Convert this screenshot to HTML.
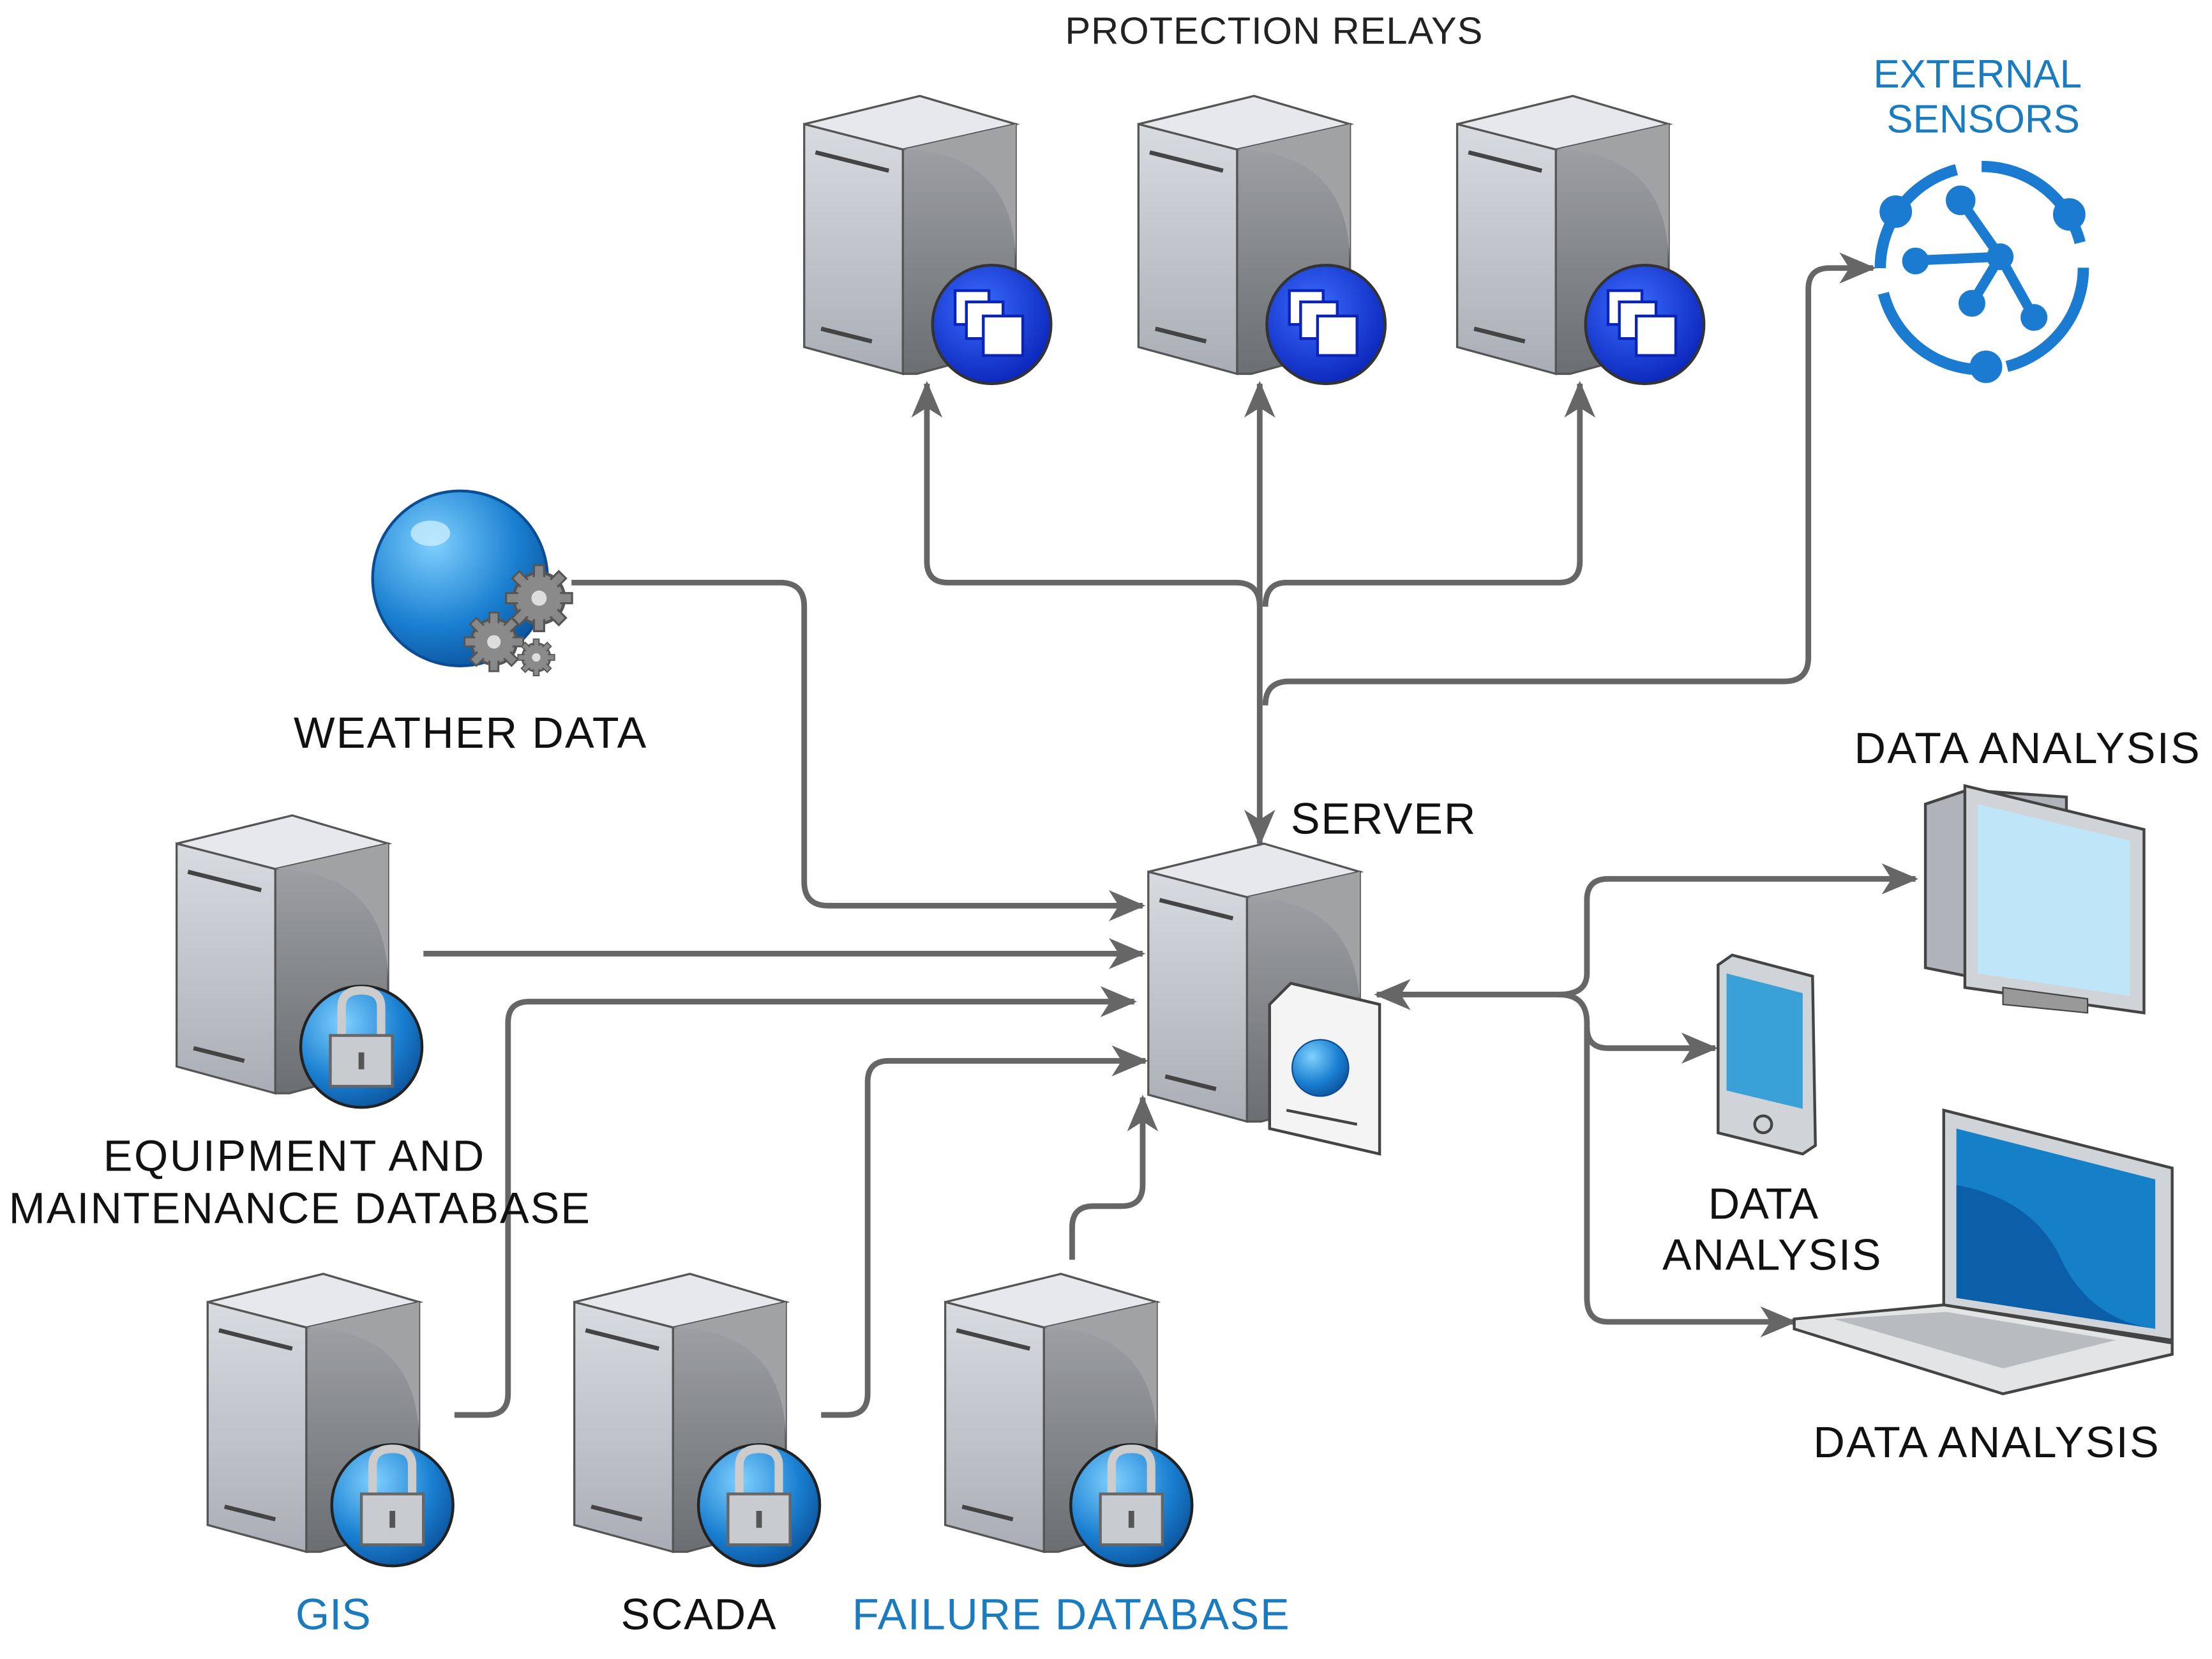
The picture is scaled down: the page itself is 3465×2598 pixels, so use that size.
<!DOCTYPE html>
<html><head><meta charset="utf-8"><style>
html,body{margin:0;padding:0;background:#fff;width:3465px;height:2598px;overflow:hidden}
svg{display:block}
text{font-family:"Liberation Sans",Arial,sans-serif}
</style></head><body>
<svg width="3465" height="2598" viewBox="0 0 1568 1176" xmlns="http://www.w3.org/2000/svg">
<defs>
<marker id="ah" viewBox="0 0 26 22" refX="24" refY="11" markerWidth="26" markerHeight="22" markerUnits="userSpaceOnUse" orient="auto">
<path d="M0,0 L26,11 L0,22 L7,11 Z" fill="#666"/>
</marker>
<linearGradient id="gf" x1="0" x2="0" y1="0" y2="1"><stop offset="0" stop-color="#d8dbe0"/><stop offset="1" stop-color="#a9aeb6"/></linearGradient>
<linearGradient id="gs" x1="0" x2="0" y1="0" y2="1"><stop offset="0" stop-color="#a2a4a7"/><stop offset="1" stop-color="#6b6e72"/></linearGradient>
<radialGradient id="gb" cx="0.35" cy="0.3" r="0.8"><stop offset="0" stop-color="#7fd0ff"/><stop offset="0.6" stop-color="#1a7fd0"/><stop offset="1" stop-color="#0a4c95"/></radialGradient>
<radialGradient id="gd" cx="0.4" cy="0.35" r="0.7"><stop offset="0" stop-color="#3a6cff"/><stop offset="1" stop-color="#0a24b8"/></radialGradient>
<g id="srv">
<polygon points="0,20 82,0 150,20 70,38" fill="#e6e8eb" stroke="#555" stroke-width="1.5"/>
<polygon points="0,20 70,38 70,197 0,178" fill="url(#gf)" stroke="#555" stroke-width="1.5"/>
<polygon points="70,38 150,20 150,178 80,197 70,197" fill="url(#gs)" stroke="#555" stroke-width="1.5"/>
<path d="M70,38 Q150,40 150,120 L150,20 Z" fill="#a0a2a4"/>
<line x1="8" y1="40" x2="60" y2="53" stroke="#444" stroke-width="3"/>
<line x1="12" y1="165" x2="48" y2="174" stroke="#444" stroke-width="3"/>
</g>
<g id="relaybadge">
<circle r="42" fill="url(#gd)" stroke="#333" stroke-width="2"/>
<rect x="-26" y="-24" width="24" height="24" fill="#fff" stroke="#0a24b8" stroke-width="2"/>
<rect x="-18" y="-16" width="26" height="26" fill="#fff" stroke="#0a24b8" stroke-width="2"/>
<rect x="-6" y="-6" width="28" height="28" fill="#fff" stroke="#0a24b8" stroke-width="2"/>
</g>
<g id="lockbadge">
<circle r="43" fill="url(#gb)" stroke="#222" stroke-width="2"/>
<path d="M-14,-6 V-28 Q-14,-40 0,-40 Q14,-40 14,-28 V-6" fill="none" stroke="#ccc" stroke-width="6"/>
<rect x="-22" y="-8" width="44" height="36" fill="#c8ccd0" stroke="#666" stroke-width="2"/>
<rect x="-2" y="4" width="4" height="12" fill="#555"/>
</g>
<g id="gear">
<circle r="1" fill="#888" stroke="#555" stroke-width="0.12"/>
<g fill="#888" stroke="#555" stroke-width="0.08">
<rect x="-0.2" y="-1.3" width="0.4" height="2.6"/>
<rect x="-0.2" y="-1.3" width="0.4" height="2.6" transform="rotate(45)"/>
<rect x="-0.2" y="-1.3" width="0.4" height="2.6" transform="rotate(90)"/>
<rect x="-0.2" y="-1.3" width="0.4" height="2.6" transform="rotate(135)"/>
</g>
<circle r="0.85" fill="#8a8a8a"/>
<circle r="0.3" fill="#ddd"/>
</g>
</defs>

<!-- connectors -->
<g fill="none" stroke="#666" stroke-width="4">
<path d="M893,430 L893,272" marker-end="url(#ah)"/>
<path d="M893,430 L893,598" marker-end="url(#ah)"/>
<path d="M893,430 Q893,413 876,413 L672,413 Q657,413 657,398 L657,272" marker-end="url(#ah)"/>
<path d="M897,430 Q897,413 912,413 L1105,413 Q1120,413 1120,398 L1120,272" marker-end="url(#ah)"/>
<path d="M897,500 Q897,483 914,483 L1265,483 Q1282,483 1282,466 L1282,205 Q1282,190 1297,190 L1328,190" marker-end="url(#ah)"/>
<path d="M405,413 L553,413 Q570,413 570,430 L570,625 Q570,642 587,642 L810,642" marker-end="url(#ah)"/>
<path d="M300,676 L810,676" marker-end="url(#ah)"/>
<path d="M322,1003 L345,1003 Q360,1003 360,988 L360,725 Q360,710 375,710 L804,710" marker-end="url(#ah)"/>
<path d="M582,1003 L600,1003 Q615,1003 615,988 L615,767 Q615,752 630,752 L812,752" marker-end="url(#ah)"/>
<path d="M760,893 L760,870 Q760,855 775,855 L795,855 Q810,855 810,840 L810,778" marker-end="url(#ah)"/>
<path d="M1110,705 L976,705" marker-end="url(#ah)"/>
<path d="M1105,705 Q1125,705 1125,690 L1125,638 Q1125,623 1140,623 L1358,623" marker-end="url(#ah)"/>
<path d="M1105,705 Q1125,705 1125,725 L1125,920 Q1125,937 1140,937 L1272,937" marker-end="url(#ah)"/>
<path d="M1125,728 Q1125,743 1140,743 L1216,743" marker-end="url(#ah)"/>
</g>

<!-- relays -->
<use href="#srv" x="570" y="68"/><use href="#relaybadge" x="703" y="230"/>
<use href="#srv" x="807" y="68"/><use href="#relaybadge" x="940" y="230"/>
<use href="#srv" x="1033" y="68"/><use href="#relaybadge" x="1166" y="230"/>
<text x="903" y="31" font-size="27" text-anchor="middle" fill="#222" textLength="296">PROTECTION RELAYS</text>

<!-- external sensors -->
<text x="1402" y="62" font-size="28" text-anchor="middle" fill="#1a7bbf">EXTERNAL</text>
<text x="1406" y="94" font-size="28" text-anchor="middle" fill="#1a7bbf">SENSORS</text>
<g stroke="#1a7bd0" fill="#1a7bd0">
<circle cx="1405" cy="190" r="72" fill="none" stroke-width="8" stroke-dasharray="95 18"/>
<line x1="1350" y1="185" x2="1418" y2="182" stroke-width="7"/>
<line x1="1390" y1="142" x2="1418" y2="182" stroke-width="7"/>
<line x1="1418" y1="182" x2="1398" y2="215" stroke-width="7"/>
<line x1="1418" y1="182" x2="1442" y2="225" stroke-width="7"/>
<circle cx="1418" cy="182" r="9"/><circle cx="1390" cy="142" r="10"/><circle cx="1398" cy="215" r="9"/><circle cx="1442" cy="225" r="9"/><circle cx="1358" cy="185" r="9"/>
<circle cx="1344" cy="150" r="11"/><circle cx="1467" cy="152" r="11"/><circle cx="1408" cy="260" r="11"/>
</g>

<!-- weather -->
<circle cx="326" cy="410" r="62" fill="url(#gb)" stroke="#0a4c95" stroke-width="2"/>
<ellipse cx="305" cy="378" rx="14" ry="9" fill="#c8ecff" opacity="0.8"/>
<use href="#gear" transform="translate(382,424) scale(18)"/>
<use href="#gear" transform="translate(350,455) scale(16)"/>
<use href="#gear" transform="translate(380,466) scale(10)"/>
<text x="333" y="530" font-size="31" text-anchor="middle" fill="#111" textLength="250">WEATHER DATA</text>

<!-- equipment db -->
<use href="#srv" x="125" y="578"/><use href="#lockbadge" x="256" y="742"/>
<text x="208" y="830" font-size="31" text-anchor="middle" fill="#111" textLength="270">EQUIPMENT AND</text>
<text x="212" y="867" font-size="31" text-anchor="middle" fill="#111" textLength="412">MAINTENANCE DATABASE</text>

<!-- bottom dbs -->
<use href="#srv" x="147" y="903"/><use href="#lockbadge" x="278" y="1067"/>
<use href="#srv" x="407" y="903"/><use href="#lockbadge" x="538" y="1067"/>
<use href="#srv" x="670" y="903"/><use href="#lockbadge" x="802" y="1067"/>
<text x="236" y="1155" font-size="31" text-anchor="middle" fill="#1a7bbf">GIS</text>
<text x="495" y="1155" font-size="31" text-anchor="middle" fill="#111" textLength="110">SCADA</text>
<text x="759" y="1155" font-size="31" text-anchor="middle" fill="#1a7bbf" textLength="310">FAILURE DATABASE</text>

<!-- server -->
<use href="#srv" x="814" y="598"/>
<polygon points="900,712 915,697 978,712 978,818 900,800" fill="#f4f4f4" stroke="#444" stroke-width="2"/>
<circle cx="936" cy="757" r="20" fill="url(#gb)" stroke="#0a4c95"/>
<line x1="912" y1="787" x2="962" y2="797" stroke="#444" stroke-width="2"/>
<text x="915" y="591" font-size="31" fill="#111" textLength="131">SERVER</text>

<!-- desktop -->
<text x="1437" y="541" font-size="31" text-anchor="middle" fill="#111" textLength="245">DATA ANALYSIS</text>
<polygon points="1365,570 1395,560 1465,565 1465,690 1395,692 1365,686" fill="#b0b4ba" stroke="#444" stroke-width="2"/>
<polygon points="1393,557 1520,588 1520,718 1393,700" fill="#d0d4d8" stroke="#444" stroke-width="2"/>
<polygon points="1402,570 1510,596 1510,706 1402,690" fill="#bfe6f8"/>
<polygon points="1420,700 1480,708 1480,718 1420,712" fill="#999" stroke="#444"/>

<!-- phone -->
<polygon points="1218,684 1228,677 1285,692 1287,812 1278,818 1218,803" fill="#d0d4d8" stroke="#444" stroke-width="2"/>
<polygon points="1224,690 1278,704 1278,786 1224,773" fill="#3aa0d8"/>
<circle cx="1250" cy="797" r="6" fill="none" stroke="#444" stroke-width="2"/>
<text x="1250" y="864" font-size="31" text-anchor="middle" fill="#111">DATA</text>
<text x="1256" y="900" font-size="31" text-anchor="middle" fill="#111" textLength="155">ANALYSIS</text>

<!-- laptop -->
<polygon points="1378,787 1540,828 1540,950 1378,925" fill="#d0d4d8" stroke="#444" stroke-width="2"/>
<polygon points="1387,800 1528,836 1528,942 1387,920" fill="#1580c8"/>
<path d="M1387,840 Q1440,850 1460,890 Q1480,935 1528,942 L1387,920 Z" fill="#0b5fa8"/>
<polygon points="1272,935 1378,925 1540,952 1540,960 1420,988 1272,942" fill="#e2e4e6" stroke="#444" stroke-width="2"/>
<polygon points="1300,935 1380,930 1500,950 1420,970" fill="#b8bcc0"/>
<text x="1408" y="1033" font-size="31" text-anchor="middle" fill="#111" textLength="245">DATA ANALYSIS</text>
</svg>
</body></html>
